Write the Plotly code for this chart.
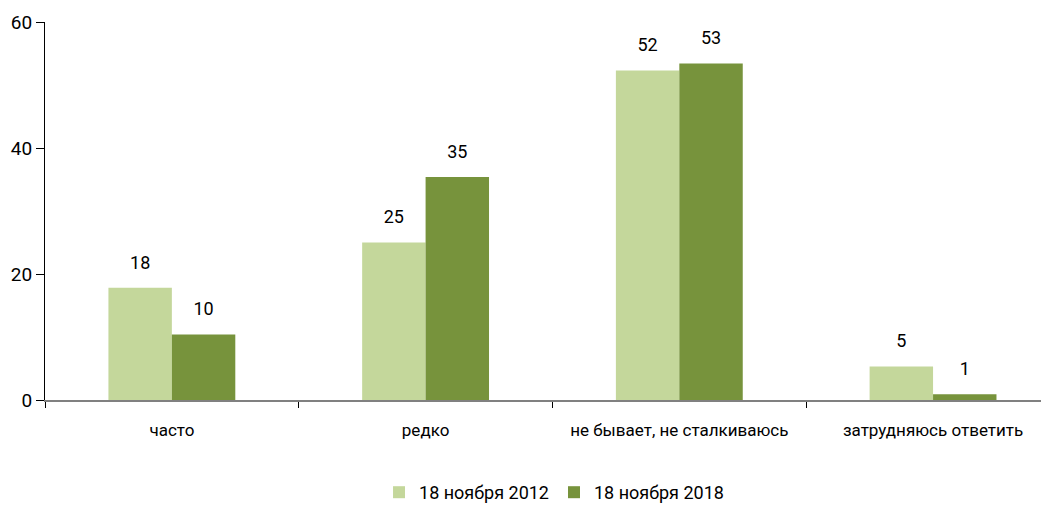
import plotly.graph_objects as go

categories = ["часто", "редко", "не бывает, не сталкиваюсь", "затрудняюсь ответить"]
series_names = ["18 ноября 2012", "18 ноября 2018"]
values_2012 = [17.8, 25.0, 52.3, 5.3]
values_2018 = [10.4, 35.4, 53.4, 0.9]
y_ticks = [0, 20, 40, 60]

colors = ["#c4d79b", "#77933c"]
font_family = "Roboto, Arial"

fig = go.Figure()
for i, (name, vals, col) in enumerate(zip(series_names, [values_2012, values_2018], colors)):
    fig.add_trace(go.Bar(
        x=categories, y=vals, name=name, marker=dict(color=col, line=dict(width=0)),
        offsetgroup=str(i), alignmentgroup="a",
    ))
for i, vals in enumerate([values_2012, values_2018]):
    fig.add_trace(go.Scatter(
        x=categories, y=vals, mode="markers+text", showlegend=False,
        marker=dict(size=22, opacity=0), hoverinfo="skip",
        texttemplate="%{y:.0f}", textposition="top center",
        textfont=dict(family=font_family, size=18, color="#000000"),
        offsetgroup=str(i), alignmentgroup="a", cliponaxis=False,
    ))

fig.update_layout(
    width=1041, height=503,
    margin=dict(l=37, r=0, t=14, b=103),
    plot_bgcolor="white", paper_bgcolor="white",
    barmode="group", bargap=0.5, bargroupgap=0,
    scattermode="group", scattergap=0.5,
    font=dict(family=font_family, size=17, color="#000000"),
    showlegend=True,
    legend=dict(orientation="h", x=0.507, xanchor="center", y=-0.245, yanchor="middle",
                font=dict(family=font_family, size=18), itemwidth=30, traceorder="normal"),
    xaxis=dict(range=[-0.5, 3.457], showline=True, linecolor="#808080", linewidth=2,
               ticks="outside", tickson="boundaries", ticklen=6, tickcolor="#000000",
               tickfont=dict(family=font_family, size=17), showgrid=False, zeroline=False,
               ticklabelstandoff=14, automargin=False),
    yaxis=dict(range=[0, 60], tickvals=y_ticks, showline=True, linecolor="#000000", linewidth=1,
               ticks="outside", ticklen=8, tickcolor="#000000", showgrid=False, zeroline=False,
               tickfont=dict(family=font_family, size=19), automargin=False),
)

fig.write_html("out.html")
